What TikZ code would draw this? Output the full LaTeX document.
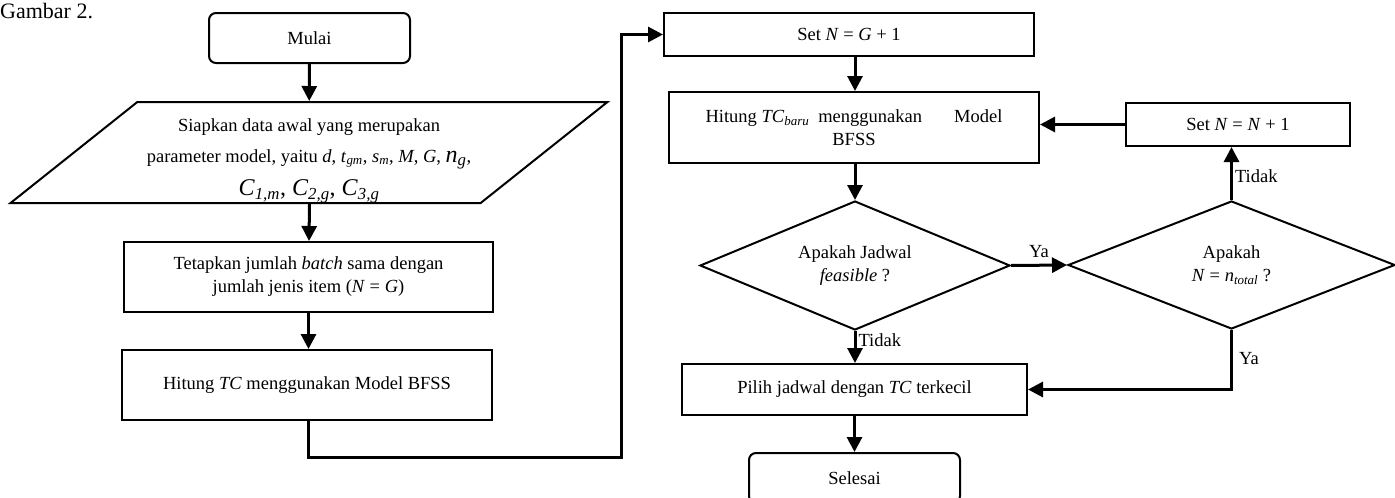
\documentclass[tikz,border=0pt]{standalone}
\usepackage{fontspec}
\setmainfont{Liberation Serif}
\usetikzlibrary{
  calc,
  positioning,
  arrows.meta,
  shapes.geometric
}
\newcommand{\isub}[2]{\textit{#1}\textsubscript{\textit{#2}}}
\newcommand{\bodyfont}{\fontsize{18.5}{23}\selectfont}

\begin{document}
\begin{tikzpicture}[
    x=1pt, y=-1pt,
    termbox/.style={
      rectangle, rounded corners=7pt, draw, line width=2pt,
      minimum height=50pt, font=\bodyfont
    },
    procbox/.style={
      rectangle, draw, line width=2pt,
      align=center, font=\bodyfont, inner sep=0pt
    },
    iobox/.style={
      trapezium, trapezium left angle=40, trapezium right angle=140,
      trapezium stretches=true, draw, line width=2pt,
      align=center, font=\bodyfont, inner sep=0pt
    },
    ask/.style={
      diamond, shape aspect=2.45, draw, line width=2pt,
      align=center, font=\bodyfont, inner sep=0pt
    },
    arr/.style={-{Triangle[length=15pt, width=15pt]}, line width=3pt},
    lbl/.style={font=\bodyfont, inner sep=2pt}
  ]
    \useasboundingbox (0,0) rectangle (1395,498);

    \node[anchor=base west, inner sep=0pt, font=\fontsize{22}{26}\selectfont]
      (title) at (0,18) {Gambar 2.};

    \node[termbox, minimum width=201pt] (start) at (309.5,38) {Mulai};
    \node[iobox, minimum width=598pt, minimum height=101pt] (input) at (309,152.5)
      {\rule{0pt}{29pt}Siapkan data awal yang merupakan\\[8pt]
       parameter model, yaitu \textit{d}, \isub{t}{gm}, \isub{s}{m}, \textit{M}, \textit{G},
       {\fontsize{24}{24}\selectfont\isub{n}{g}},\\[9pt]
       {\fontsize{24}{26}\selectfont\isub{C}{1,m}, \isub{C}{2,g}, \isub{C}{3,g}}};
    \node[procbox, minimum width=369pt, minimum height=70pt] (setbatch) at (308.5,277)
      {Tetapkan jumlah \textit{batch} sama dengan\\
       jumlah jenis item (\textit{N} = \textit{G})};
    \node[procbox, minimum width=370pt, minimum height=70pt] (calctc) at (307,385)
      {Hitung \textit{TC} menggunakan Model BFSS};

    \node[procbox, minimum width=370pt, minimum height=43pt] (setg) at (849,34.5)
      {Set \textit{N} = \textit{G} + 1};
    \node[procbox, minimum width=370pt, minimum height=71pt] (calcnew) at (854,127.5)
      {\makebox[297pt]{Hitung \isub{TC}{baru}\hspace{9pt}menggunakan\hfill Model}\\
       BFSS};
    \node[ask, minimum width=310pt, minimum height=129pt] (feas) at (855,265.5)
      {Apakah Jadwal\\ \textit{feasible} ?};
    \node[ask, minimum width=327pt, minimum height=128pt] (ntotal) at (1231.5,265)
      {Apakah\\ \textit{N} = \isub{n}{total} ?};
    \node[procbox, minimum width=224pt, minimum height=43pt] (setn) at (1238,124.5)
      {Set \textit{N} = \textit{N} + 1};
    \node[procbox, minimum width=345pt, minimum height=51pt] (pick) at (854.5,389.5)
      {Pilih jadwal dengan \textit{TC} terkecil};
    \node[termbox, minimum width=211pt] (stop) at (854.5,478) {Selesai};

    \coordinate (loop) at (621,457);

    \draw[arr] (start) -- (input);
    \draw[arr] (input.south -| start.south) -- (setbatch);
    \draw[arr] (setbatch) -- (calctc.north -| setbatch.south);
    \draw[arr] (calctc.south -| setbatch.south) |- (loop) |- (setg.west);

    \draw[arr] (feas.north |- setg.south) -- (feas.north |- calcnew.north);
    \draw[arr] (feas.north |- calcnew.south) -- (feas.north);
    \draw[arr] (feas.east) -- (ntotal.west)
      node[midway, above=4pt, lbl] {Ya};
    \draw[arr] (ntotal.north) -- (ntotal.north |- setn.south)
      node[pos=0.45, right, lbl] {Tidak};
    \draw[arr] (setn.west) -- (setn.west -| calcnew.east);
    \draw[arr] (feas.south) -- (feas.south |- pick.north)
      node[pos=0.3, right, lbl] {Tidak};
    \draw[arr] (ntotal.south) |- (pick.east)
      node[pos=0.24, right=4pt, lbl] {Ya};
    \draw[arr] (pick) -- (stop);
  \end{tikzpicture}
\end{document}
